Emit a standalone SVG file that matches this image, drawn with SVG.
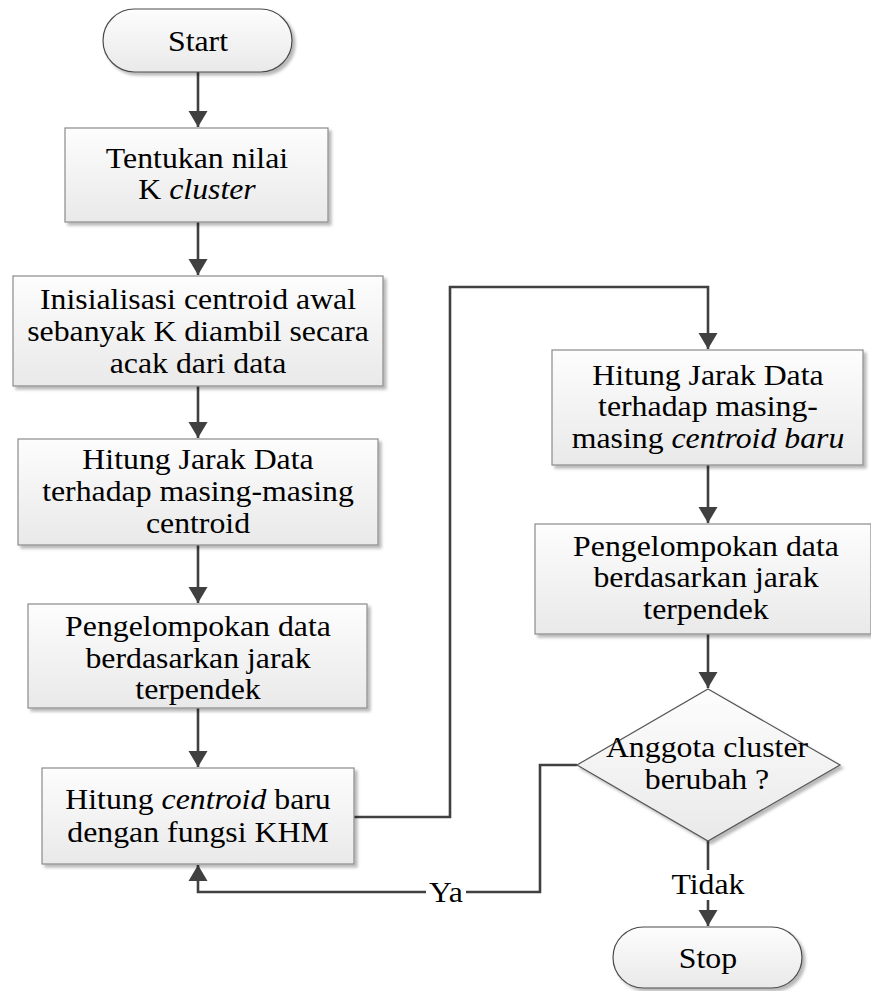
<svg xmlns="http://www.w3.org/2000/svg" width="871" height="991" viewBox="0 0 871 991">
  <style>
    .proc { fill: url(#fillGrad); stroke: #8a8a8a; stroke-width: 1.2; filter: url(#shadow); }
    .term { fill: url(#fillGrad); stroke: #4a4a4a; stroke-width: 1.2; filter: url(#shadow); }
    .dec  { fill: url(#fillGrad); stroke: #555555; stroke-width: 1.2; filter: url(#shadow); }
    .t { font-family: "Liberation Serif", "Times New Roman", serif; font-size: 30px; fill: #000; text-anchor: middle; }
    .i { font-style: italic; }
    .edge { fill: none; stroke: #404040; stroke-width: 2.6; }
    .lbl-bg { fill: #ffffff; }
  </style>
  <defs>
    <linearGradient id="fillGrad" x1="0" y1="0" x2="0" y2="1">
      <stop offset="0" stop-color="#fdfdfd"/>
      <stop offset="1" stop-color="#e9e9e9"/>
    </linearGradient>
    <filter id="shadow" x="-10%" y="-10%" width="120%" height="130%">
      <feDropShadow dx="3" dy="3" stdDeviation="1.4" flood-color="#000" flood-opacity="0.28"/>
    </filter>
    <marker id="arrow" markerUnits="userSpaceOnUse" markerWidth="20" markerHeight="20" viewBox="0 0 20 20" refX="16" refY="10" orient="auto">
      <path d="M0,0.5 L16,10 L0,19.5 Z" fill="#404040"/>
    </marker>
  </defs>

  <rect width="871" height="991" fill="#ffffff"/>

  <!-- connectors -->
  <g id="connectors">
    <path class="edge" d="M198,72 V127" marker-end="url(#arrow)"/>
    <path class="edge" d="M198,222 V275" marker-end="url(#arrow)"/>
    <path class="edge" d="M198,386 V438" marker-end="url(#arrow)"/>
    <path class="edge" d="M198,545 V603" marker-end="url(#arrow)"/>
    <path class="edge" d="M198,708 V767" marker-end="url(#arrow)"/>
    <path class="edge" d="M354,817 H450 V287 H708 V349" marker-end="url(#arrow)"/>
    <path class="edge" d="M708,465 V523" marker-end="url(#arrow)"/>
    <path class="edge" d="M708,634 V688" marker-end="url(#arrow)"/>
    <path class="edge" d="M577,765 H540 V892 H198 V865" marker-end="url(#arrow)"/>
    <path class="edge" d="M708,841 V926" marker-end="url(#arrow)"/>
    <!-- branch labels -->
    <rect class="lbl-bg" x="426" y="878" width="40" height="28"/>
    <text class="t" transform="translate(446 902) scale(1.06 1)">Ya</text>
    <rect class="lbl-bg" x="666" y="870" width="84" height="30"/>
    <text class="t" transform="translate(708 894) scale(1.06 1)">Tidak</text>
  </g>

  <g id="start">
    <rect class="term" x="103" y="9" width="189" height="63" rx="31.5" ry="31.5"/>
    <text class="t" transform="translate(198 51) scale(1.06 1)">Start</text>
  </g>

  <g id="set-k">
    <rect class="proc" x="65" y="128" width="263" height="94"/>
    <text class="t" transform="translate(197 168) scale(1.06 1)"><tspan x="0" y="0">Tentukan nilai</tspan><tspan x="0" y="31.5">K <tspan class="i">cluster</tspan></tspan></text>
  </g>

  <g id="init-centroid">
    <rect class="proc" x="13" y="276" width="370" height="110"/>
    <text class="t" transform="translate(198 309) scale(1.06 1)"><tspan x="0" y="0">Inisialisasi centroid awal</tspan><tspan x="0" y="32">sebanyak K diambil secara</tspan><tspan x="0" y="64">acak dari data</tspan></text>
  </g>

  <g id="distance">
    <rect class="proc" x="18" y="439" width="360" height="106"/>
    <text class="t" transform="translate(198 469) scale(1.06 1)"><tspan x="0" y="0">Hitung Jarak Data</tspan><tspan x="0" y="32">terhadap masing-masing</tspan><tspan x="0" y="64">centroid</tspan></text>
  </g>

  <g id="grouping">
    <rect class="proc" x="28" y="604" width="339" height="104"/>
    <text class="t" transform="translate(198 636) scale(1.06 1)"><tspan x="0" y="0">Pengelompokan data</tspan><tspan x="0" y="32">berdasarkan jarak</tspan><tspan x="0" y="63">terpendek</tspan></text>
  </g>

  <g id="khm-centroid">
    <rect class="proc" x="42" y="768" width="312" height="96"/>
    <text class="t" transform="translate(198 809) scale(1.06 1)"><tspan x="0" y="0">Hitung <tspan class="i">centroid</tspan> baru</tspan><tspan x="0" y="33">dengan fungsi KHM</tspan></text>
  </g>

  <g id="distance-new">
    <rect class="proc" x="552" y="350" width="311" height="115"/>
    <text class="t" transform="translate(708 385) scale(1.06 1)"><tspan x="0" y="0">Hitung Jarak Data</tspan><tspan x="0" y="31.5">terhadap masing-</tspan><tspan x="0" y="63">masing <tspan class="i">centroid baru</tspan></tspan></text>
  </g>

  <g id="grouping-new">
    <rect class="proc" x="535" y="524" width="336" height="110"/>
    <text class="t" transform="translate(706 556) scale(1.06 1)"><tspan x="0" y="0">Pengelompokan data</tspan><tspan x="0" y="31.5">berdasarkan jarak</tspan><tspan x="0" y="63">terpendek</tspan></text>
  </g>

  <g id="changed">
    <path class="dec" d="M708,689 L840,765 L708,841 L577,765 Z"/>
    <text class="t" transform="translate(707 757) scale(1.06 1)"><tspan x="0" y="0">Anggota cluster</tspan><tspan x="0" y="32">berubah ?</tspan></text>
  </g>

  <g id="stop">
    <rect class="term" x="613" y="927" width="189" height="61" rx="30.5" ry="30.5"/>
    <text class="t" transform="translate(708 968) scale(1.06 1)">Stop</text>
  </g>
</svg>
